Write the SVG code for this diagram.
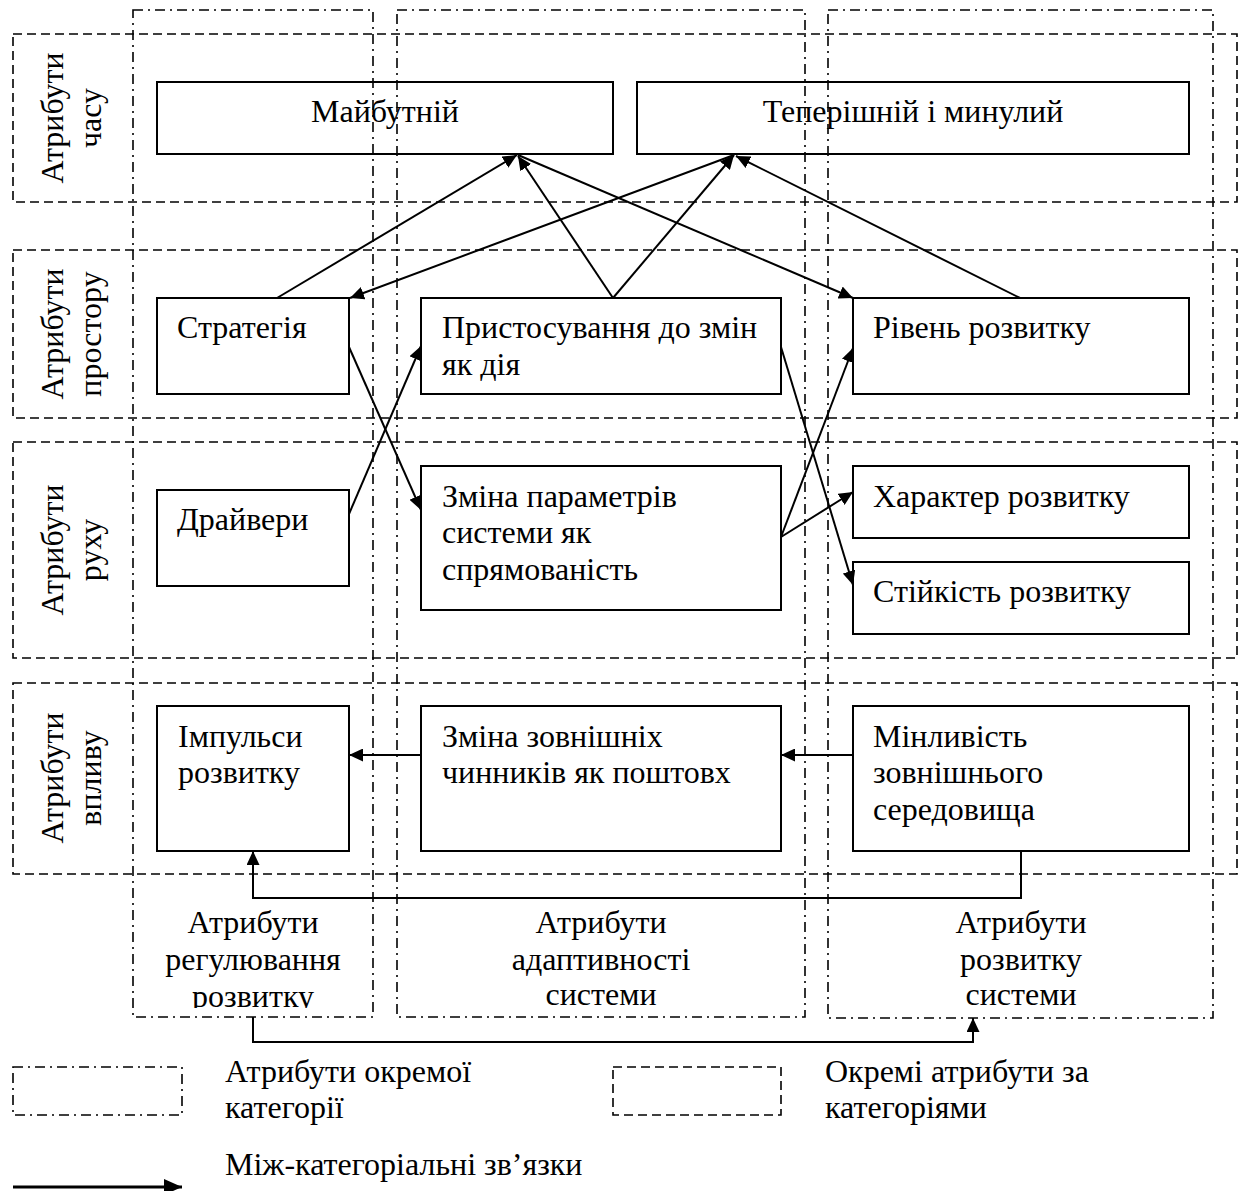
<svg xmlns="http://www.w3.org/2000/svg" width="1242" height="1191" viewBox="0 0 1242 1191">
<style>
.node{fill:none;stroke:#000;stroke-width:2}
.row{fill:none;stroke:#000;stroke-width:1.6;stroke-dasharray:9 5}
.col{fill:none;stroke:#000;stroke-width:1.6;stroke-dasharray:10 5 2 5}
.t{font-family:"Liberation Serif","Times New Roman",serif;font-size:32px;fill:#000}
.m{text-anchor:middle}
.conn{fill:none;stroke:#000;stroke-width:2;marker-end:url(#ah)}
</style>
<defs>
<marker id="ah" markerUnits="userSpaceOnUse" markerWidth="15" markerHeight="13" refX="14" refY="6.5" orient="auto">
<path d="M0,0 L14,6.5 L0,13 z" fill="#000"/>
</marker>
<marker id="ahL" markerUnits="userSpaceOnUse" markerWidth="19" markerHeight="16" refX="18" refY="8" orient="auto">
<path d="M0,0 L18,8 L0,16 z" fill="#000"/>
</marker>
<clipPath id="clipCol"><rect x="0" y="0" width="1242" height="1008"/></clipPath>
</defs>
<g id="categories">
<rect id="row-time" class="row" x="13" y="34" width="1224" height="168"/>
<rect id="row-space" class="row" x="13" y="250" width="1224" height="168"/>
<rect id="row-motion" class="row" x="13" y="442" width="1224" height="216"/>
<rect id="row-impact" class="row" x="13" y="683" width="1224" height="191"/>
<rect id="col-regulation" class="col" x="133" y="10" width="240" height="1007"/>
<rect id="col-adaptivity" class="col" x="397" y="10" width="408" height="1007"/>
<rect id="col-development" class="col" x="828" y="10" width="385" height="1008"/>
</g>
<g id="row-labels" class="t m">
<text transform="translate(63,118) rotate(-90)">Атрибути</text>
<text transform="translate(101,118) rotate(-90)">часу</text>
<text transform="translate(63,334) rotate(-90)">Атрибути</text>
<text transform="translate(101,334) rotate(-90)">простору</text>
<text transform="translate(63,550) rotate(-90)">Атрибути</text>
<text transform="translate(101,550) rotate(-90)">руху</text>
<text transform="translate(63,778) rotate(-90)">Атрибути</text>
<text transform="translate(101,778) rotate(-90)">впливу</text>
</g>
<g id="col-labels" class="t m" clip-path="url(#clipCol)">
<text x="253" y="933">Атрибути</text>
<text x="253" y="970">регулювання</text>
<text x="253" y="1007">розвитку</text>
<text x="601" y="933">Атрибути</text>
<text x="601" y="970">адаптивності</text>
<text x="601" y="1005">системи</text>
<text x="1021" y="933">Атрибути</text>
<text x="1021" y="970">розвитку</text>
<text x="1021" y="1005">системи</text>
</g>
<g id="n-future"><rect class="node" x="157" y="82" width="456" height="72"/><text class="t m" x="385" y="122">Майбутній</text></g>
<g id="n-present"><rect class="node" x="637" y="82" width="552" height="72"/><text class="t m" x="913" y="122">Теперішній і минулий</text></g>
<g id="n-strategy"><rect class="node" x="157" y="298" width="192" height="96"/><text class="t" x="177" y="338">Стратегія</text></g>
<g id="n-adapt-action"><rect class="node" x="421" y="298" width="360" height="96"/><text class="t" x="442" y="338">Пристосування до змін</text><text class="t" x="442" y="375">як дія</text></g>
<g id="n-level"><rect class="node" x="853" y="298" width="336" height="96"/><text class="t" x="873" y="338">Рівень розвитку</text></g>
<g id="n-drivers"><rect class="node" x="157" y="490" width="192" height="96"/><text class="t" x="177" y="530">Драйвери</text></g>
<g id="n-params"><rect class="node" x="421" y="466" width="360" height="144"/><text class="t" x="442" y="507">Зміна параметрів</text><text class="t" x="442" y="543">системи як</text><text class="t" x="442" y="580">спрямованість</text></g>
<g id="n-character"><rect class="node" x="853" y="466" width="336" height="72"/><text class="t" x="873" y="507">Характер розвитку</text></g>
<g id="n-stability"><rect class="node" x="853" y="562" width="336" height="72"/><text class="t" x="873" y="602">Стійкість розвитку</text></g>
<g id="n-impulses"><rect class="node" x="157" y="706" width="192" height="145"/><text class="t" x="178" y="747">Імпульси</text><text class="t" x="178" y="783">розвитку</text></g>
<g id="n-external"><rect class="node" x="421" y="706" width="360" height="145"/><text class="t" x="442" y="747">Зміна зовнішніх</text><text class="t" x="442" y="783">чинників як поштовх</text></g>
<g id="n-variability"><rect class="node" x="853" y="706" width="336" height="145"/><text class="t" x="873" y="747">Мінливість</text><text class="t" x="873" y="783">зовнішнього</text><text class="t" x="873" y="820">середовища</text></g>
<g id="connectors">
<path class="conn" d="M277,298 L517,155"/>
<path class="conn" d="M613,298 L518,156"/>
<path class="conn" d="M518,155 L853,298"/>
<path class="conn" d="M613,298 L734,155"/>
<path class="conn" d="M734,155 L350,298"/>
<path class="conn" d="M1020,298 L736,156"/>
<path class="conn" d="M349,347 L421,510"/>
<path class="conn" d="M349,514 L421,346"/>
<path class="conn" d="M781,347 L853,585"/>
<path class="conn" d="M781,537 L853,348"/>
<path class="conn" d="M781,537 L853,492"/>
<path class="conn" d="M421,755 L349,755"/>
<path class="conn" d="M853,755 L781,755"/>
<path class="conn" d="M1021,851 L1021,898 L253,898 L253,851"/>
<path class="conn" d="M253,1017 L253,1042 L973,1042 L973,1018"/>
</g>
<g id="legend">
<rect class="col" x="13" y="1067" width="169" height="48"/>
<text class="t" x="225" y="1082">Атрибути окремої</text>
<text class="t" x="225" y="1118">категорії</text>
<rect class="row" x="613" y="1067" width="168" height="48"/>
<text class="t" x="825" y="1082">Окремі атрибути за</text>
<text class="t" x="825" y="1118">категоріями</text>
<path d="M13,1187 L182,1187" fill="none" stroke="#000" stroke-width="3" marker-end="url(#ahL)"/>
<text class="t" x="225" y="1175">Між-категоріальні зв’язки</text>
</g>
</svg>
